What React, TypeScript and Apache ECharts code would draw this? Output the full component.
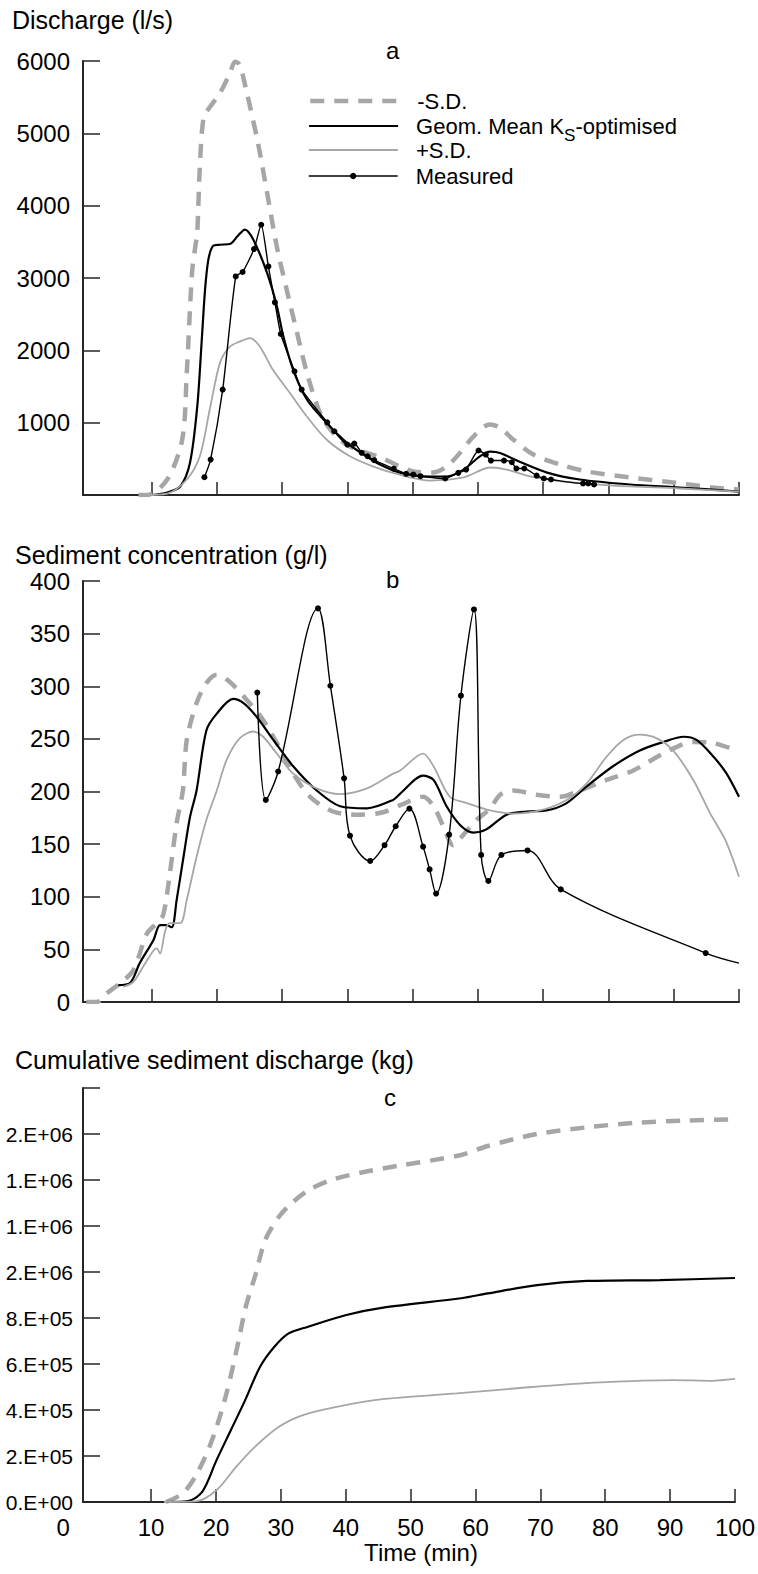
import React, { useEffect, useRef } from "react";
import * as echarts from "echarts";

const FONT = "'Liberation Sans', Arial, sans-serif";

// ---------- Panel a: Discharge (l/s) ----------
const qMinusSD: [number, number][] = [
  [8, 0], [9.3, 0], [12.4, 214], [14.7, 767], [15.4, 1690], [16.2, 3070], [16.7, 3430], [17.0, 3620],
  [17.4, 4540], [18.0, 5230], [19.0, 5370], [20.5, 5560], [22.0, 5830], [22.8, 5990], [23.5, 5950],
  [24.6, 5560], [26.3, 4870], [27.7, 4180], [29.2, 3430], [30.7, 2840], [32.3, 2240], [33.8, 1690],
  [35.8, 1140], [37.8, 860], [40.4, 670], [45.1, 518], [48.1, 393], [50.1, 325], [53.1, 310],
  [55.2, 393], [57.3, 587], [59.3, 808], [61.8, 974], [63.4, 932], [65.4, 766], [68.5, 559],
  [72.6, 421], [76.7, 325], [83.3, 242], [89.9, 173], [96.0, 104], [100, 76],
];
const qGeomMean: [number, number][] = [
  [10, 0], [12.4, 35], [14.4, 117], [15.9, 450], [17.0, 1220], [17.7, 2150], [18.2, 2840],
  [18.7, 3250], [19.4, 3440], [20.5, 3460], [22.0, 3470], [23.2, 3580], [24.3, 3670], [25.6, 3530],
  [27.7, 3070], [29.2, 2610], [30.2, 2190], [31.7, 1730], [33.8, 1320], [36.8, 1000], [39.9, 725],
  [42.9, 535], [45.0, 421], [48.0, 310], [52.7, 256], [55.2, 256], [57.8, 350], [60.3, 535],
  [61.9, 600], [63.4, 580], [66.4, 460], [70.6, 310], [75.6, 214], [83.3, 145], [90.9, 104], [100, 48],
];
const qPlusSD: [number, number][] = [
  [9, 0], [12.4, 20], [15.4, 214], [17.4, 535], [19.0, 1220], [20.5, 1830], [22.0, 2050],
  [23.5, 2120], [25.1, 2170], [26.6, 2050], [28.6, 1730], [31.2, 1410], [33.8, 1085], [36.8, 767],
  [40.4, 535], [44.0, 393], [48.0, 280], [52.7, 200], [57.8, 242], [61.9, 380], [64.4, 352],
  [68.0, 256], [73.1, 186], [80.7, 131], [90.9, 90], [100, 48],
];
const qMeasured: [number, number][] = [
  [18.1, 246], [19.05, 490], [20.9, 1457], [22.9, 3022], [23.95, 3083], [25.7, 3400], [26.8, 3736],
  [27.9, 3160], [28.9, 2663], [29.8, 2226], [31.9, 1710], [33.0, 1457], [36.9, 1005], [38.0, 881],
  [40.0, 697], [41.06, 711], [42.2, 583], [43.1, 536], [44.1, 481], [47.1, 364], [49.0, 293],
  [50.1, 283], [51.2, 260], [55.0, 228], [57.0, 306], [58.2, 352], [60.1, 615], [61.2, 559],
  [62.0, 476], [64.0, 476], [65.2, 453], [65.9, 366], [67.1, 366], [69.0, 269], [70.1, 228],
  [71.2, 214], [76.1, 159], [76.9, 159], [77.8, 145],
];

// ---------- Panel b: Sediment concentration (g/l) ----------
const cMinusSD: [number, number][] = [
  [0, 0], [1.6, 0], [3.1, 8], [5.2, 18], [7.2, 30], [9.3, 65], [10.8, 75], [11.8, 83], [12.8, 122],
  [13.85, 170], [14.8, 201], [15.4, 249], [16.9, 284], [18.4, 303], [20.0, 311], [22.0, 304],
  [24.6, 287], [27.1, 268], [29.2, 246], [31.7, 217], [34.3, 195], [37.8, 181], [41.9, 178],
  [45.3, 180], [48.1, 187], [51.6, 195], [53.2, 186], [54.7, 167], [56.2, 149], [57.8, 159],
  [59.8, 173], [61.9, 184], [63.4, 197], [65.4, 201], [69.0, 197], [72.6, 195], [75.6, 201],
  [79.7, 211], [83.8, 220], [88.4, 236], [93.0, 247], [96.1, 246], [100, 238],
];
const cGeomMean: [number, number][] = [
  [4.9, 16], [6.7, 18], [8.2, 37], [10.3, 59], [11.3, 73], [12.3, 73], [13.1, 71], [13.85, 97],
  [14.9, 138], [15.9, 176], [16.9, 201], [18.4, 258], [20.0, 274], [22.5, 288], [24.1, 284],
  [26.1, 271], [28.65, 249], [31.7, 224], [35.3, 201], [38.9, 186], [43.0, 184], [47.0, 192],
  [48.1, 198], [51.6, 215], [53.2, 211], [55.2, 186], [57.3, 168], [59.3, 161], [61.3, 164],
  [64.4, 178], [67.5, 181], [70.5, 182], [73.6, 189], [76.7, 205], [80.7, 224], [84.8, 239],
  [88.4, 247], [91.5, 252], [93.5, 249], [96.1, 233], [98.1, 217], [100, 195],
];
const cPlusSD: [number, number][] = [
  [5.7, 14.5], [7.2, 19], [8.7, 33.5], [10.3, 49], [10.8, 51], [11.3, 46], [12.1, 68], [12.8, 75],
  [14.4, 75], [15.4, 97], [16.9, 138], [18.4, 173], [20.0, 201], [21.5, 230], [23.5, 250.5],
  [25.6, 257], [27.1, 252], [29.2, 236], [31.7, 217], [35.3, 203], [38.9, 197.6], [43.0, 203],
  [47.0, 217], [48.1, 220], [51.6, 236], [53.2, 224], [55.7, 195], [58.3, 189], [61.9, 182],
  [65.4, 179], [69.5, 182], [73.6, 192], [76.7, 208], [79.7, 233], [82.3, 249], [84.8, 254],
  [87.4, 250.5], [89.9, 239], [93.0, 211], [95.6, 179], [97.9, 154], [100, 119],
];
const cMeasured: [number, number][] = [
  [26.2, 294], [27.5, 192], [29.4, 219], [35.5, 374], [37.4, 300.5], [39.5, 212.5], [40.4, 158],
  [43.5, 134], [45.7, 149], [47.4, 167], [49.5, 183.7], [51.6, 147.6], [52.6, 126], [53.6, 103],
  [55.6, 159], [57.4, 291], [59.4, 373], [60.5, 139.7], [61.6, 115], [63.6, 139.7], [67.6, 144],
  [72.7, 107], [94.9, 46.5], [100, 37],
];
// the last measured-curve point carries no marker
const cMeasuredNoMarker = [100];

// ---------- Panel c: Cumulative sediment discharge (kg) ----------
const sMinusSD: [number, number][] = [
  [12.3, 0], [14.9, 38000], [17.1, 125000], [19.4, 270000], [21.6, 470000], [23.4, 690000],
  [24.6, 850000], [26.1, 990000], [27.6, 1140000], [29.7, 1240000], [31.7, 1300000],
  [34.3, 1356000], [37.8, 1400000], [43.0, 1436000], [48.1, 1462000], [57.8, 1509000],
  [61.9, 1548000], [69.5, 1600000], [77.2, 1629000], [84.8, 1649000], [92.5, 1658000], [100, 1664000],
];
const sGeomMean: [number, number][] = [
  [12, 0], [15.7, 4000], [17.9, 45000], [20.1, 183000], [22.3, 313000], [24.5, 443000],
  [26.8, 588000], [29.0, 675000], [31.2, 733000], [34.2, 762000], [40.1, 813000], [46.0, 846000],
  [57.8, 886000], [61.9, 907000], [69.5, 943000], [77.2, 961000], [88.4, 965000], [100, 974000],
];
const sPlusSD: [number, number][] = [
  [12, 0], [17.1, 4000], [20.1, 52000], [23.1, 153000], [26.0, 240000], [29.7, 327000],
  [33.4, 378000], [38.6, 414000], [46.0, 448000], [57.1, 472000], [68.2, 499000], [79.3, 520000],
  [90.5, 530000], [96.4, 527000], [100, 535000],
];

const xTickValues = [10, 20, 30, 40, 50, 60, 70, 80, 90, 100];
const xLabelValues = [0, 10, 20, 30, 40, 50, 60, 70, 80, 90, 100];
const cumTickLabels = ["0.E+00", "2.E+05", "4.E+05", "6.E+05", "8.E+05", "2.E+06", "1.E+06", "1.E+06", "2.E+06", ""];

const seriesNames = ["-S.D.", "Geom. Mean Ks-optimised", "+S.D.", "Measured"];

const AXIS_COLOR = "#262626";
const GRAY = "#a6a6a6";

export default function App() {
  const ref = useRef<HTMLDivElement>(null);
  useEffect(() => {
    if (!ref.current) return;
    const chart = echarts.init(ref.current, undefined, { renderer: "svg" });

    const grids = [
      { left: 83, right: 19, top: 61, height: 434 },
      { left: 83, right: 19, top: 581, height: 421 },
      { left: 83, right: 19, top: 1088, height: 414 },
    ];

    const xAxes = [0, 1, 2].map((i) => ({
      type: "value",
      gridIndex: i,
      min: -0.5,
      max: 100,
      name: i === 2 ? "Time (min)" : "",
      nameLocation: "middle",
      nameGap: 38,
      nameTextStyle: { fontFamily: FONT, fontSize: 24, color: "#000", padding: [0, 0, 0, 24] },
      axisLine: { onZero: false, lineStyle: { color: AXIS_COLOR, width: 2 } },
      axisTick: { show: true, inside: true, length: 13, customValues: xTickValues, lineStyle: { color: AXIS_COLOR, width: 1.5 } },
      axisLabel: {
        show: i === 2,
        customValues: xLabelValues,
        fontFamily: FONT,
        fontSize: 24,
        color: "#000",
        margin: 13,
        formatter: (v: number) => (v === 0 ? "{z|0}" : String(v)),
        rich: { z: { fontFamily: FONT, fontSize: 24, color: "#000", padding: [0, 46, 0, 0] } },
      },
      splitLine: { show: false },
    }));

    const yCommon = {
      type: "value",
      axisLine: { show: true, onZero: false, lineStyle: { color: AXIS_COLOR, width: 2 } },
      axisTick: { show: true, inside: true, length: 17, lineStyle: { color: AXIS_COLOR, width: 1.5 } },
      splitLine: { show: false },
    };
    const yAxes = [
      {
        ...yCommon, gridIndex: 0, min: 0, max: 6000, interval: 1000,
        axisLabel: { fontFamily: FONT, fontSize: 24, color: "#000", margin: 13, formatter: (v: number) => (v === 0 ? "" : String(v)) },
      },
      {
        ...yCommon, gridIndex: 1, min: 0, max: 400, interval: 50,
        axisLabel: { fontFamily: FONT, fontSize: 24, color: "#000", margin: 13 },
      },
      {
        ...yCommon, gridIndex: 2, min: 0, max: 1800000, interval: 200000,
        axisLabel: {
          fontFamily: FONT, fontSize: 21, color: "#000", margin: 10,
          formatter: (v: number) => cumTickLabels[Math.round(v / 200000)] ?? "",
        },
      },
    ];

    const minusStyle = { color: GRAY, width: 4.5, type: [14, 10] as number[] };
    const meanStyle = { color: "#000", width: 2.2 };
    const plusStyle = { color: GRAY, width: 1.8 };
    const measStyle = { color: "#000", width: 1.4 };
    const lineStyles = [minusStyle, meanStyle, plusStyle, measStyle];

    const mk = (name: string, data: any[], idx: number, lineStyle: any, extra: any = {}) => ({
      type: "line",
      name,
      xAxisIndex: idx,
      yAxisIndex: idx,
      data,
      smooth: 0.3,
      symbol: "none",
      lineStyle,
      itemStyle: { color: lineStyle.color },
      ...extra,
    });
    const measExtra = {
      symbol: "circle",
      symbolSize: 6,
      showSymbol: true,
      itemStyle: { color: "#000" },
    };

    const series = [
      mk(seriesNames[0], qMinusSD, 0, minusStyle),
      mk(seriesNames[1], qGeomMean, 0, meanStyle),
      mk(seriesNames[2], qPlusSD, 0, plusStyle),
      mk(seriesNames[3], qMeasured, 0, measStyle, { ...measExtra, smooth: 0.2 }),
      mk(seriesNames[0], cMinusSD, 1, minusStyle),
      mk(seriesNames[1], cGeomMean, 1, meanStyle),
      mk(seriesNames[2], cPlusSD, 1, plusStyle),
      mk(
        seriesNames[3],
        cMeasured.map((p) => (cMeasuredNoMarker.includes(p[0]) ? { value: p, symbol: "none" } : p)),
        1,
        measStyle,
        { ...measExtra, smooth: 0.35 }
      ),
      mk(seriesNames[0], sMinusSD, 2, minusStyle),
      mk(seriesNames[1], sGeomMean, 2, meanStyle),
      mk(seriesNames[2], sPlusSD, 2, plusStyle),
    ];

    const titleStyle = { fontFamily: FONT, fontSize: 25, fontWeight: "normal", color: "#000" };
    const letterStyle = { fontFamily: FONT, fontSize: 24, fontWeight: "normal", color: "#000" };

    const legendTops = [88.5, 113.5, 137.5, 163.5];
    const legends = seriesNames.map((n, i) => ({
      orient: "vertical",
      left: 308,
      top: legendTops[i],
      padding: 0,
      itemGap: 0,
      itemWidth: 89,
      itemHeight: 8,
      data: [
        {
          name: n,
          itemStyle: i === 3 ? { color: "#000", opacity: 1 } : { opacity: 0 },
          lineStyle: { width: lineStyles[i].width, color: lineStyles[i].color, type: (lineStyles[i] as any).type ?? "solid" },
        },
      ],
      formatter: (name: string) => (name === seriesNames[1] ? "Geom. Mean K{s|S}-optimised" : name),
      textStyle: {
        fontFamily: FONT,
        fontSize: 22,
        lineHeight: 25,
        color: "#000",
        padding: [0, 0, 0, 13],
        rich: { s: { fontFamily: FONT, fontSize: 17, lineHeight: 17, color: "#000", verticalAlign: "bottom", padding: [0, 0, -5, 0] } },
      },
    }));

    chart.setOption({
      animation: false,
      backgroundColor: "#fff",
      textStyle: { fontFamily: FONT },
      title: [
        { text: "Discharge (l/s)", left: 12, top: 7, padding: 0, textStyle: titleStyle },
        { text: "Sediment concentration (g/l)", left: 15, top: 542, padding: 0, textStyle: titleStyle },
        { text: "Cumulative sediment discharge (kg)", left: 15, top: 1047, padding: 0, textStyle: titleStyle },
        { text: "a", left: 386, top: 38, padding: 0, textStyle: letterStyle },
        { text: "b", left: 386, top: 567, padding: 0, textStyle: letterStyle },
        { text: "c", left: 384, top: 1085, padding: 0, textStyle: letterStyle },
      ],
      legend: legends,
      grid: grids,
      xAxis: xAxes,
      yAxis: yAxes,
      series,
    });
    return () => chart.dispose();
  }, []);
  return <div ref={ref} style={{ position: "absolute", left: 0, top: 0, width: 758, height: 1574 }} />;
}
